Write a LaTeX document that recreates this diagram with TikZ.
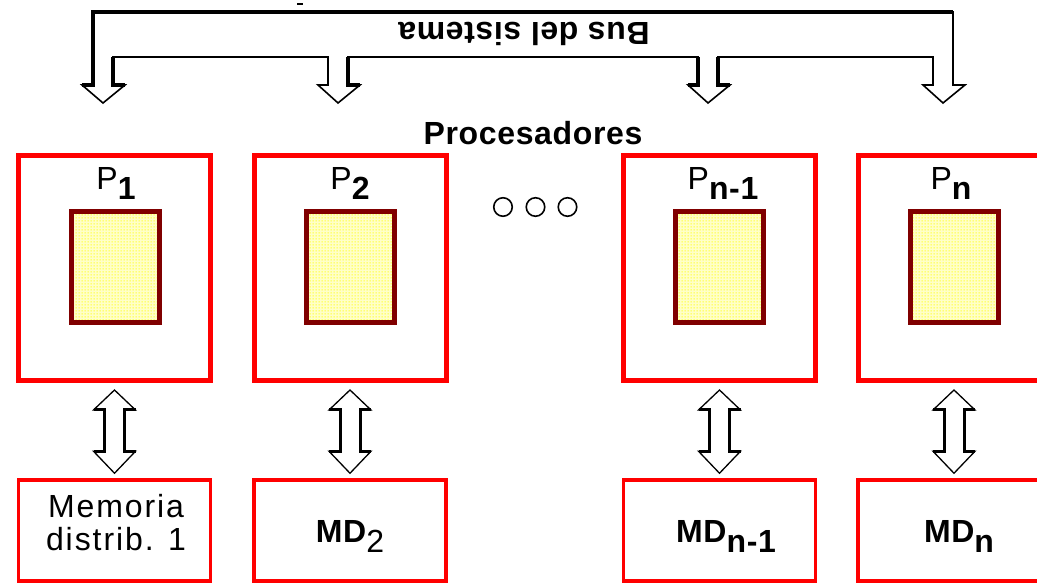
\documentclass[tikz,border=0pt]{standalone}
\usepackage{fontspec}
\setmainfont{Liberation Sans}[LetterSpace=6,BoldFeatures={LetterSpace=2}]
\usetikzlibrary{calc,patterns}
\definecolor{boxred}{RGB}{255,0,0}
\definecolor{cpuborder}{RGB}{128,0,0}
\definecolor{cpufill}{RGB}{255,255,200}
\pgfdeclarepatternformonly{ydots}{\pgfpointorigin}{\pgfqpoint{3pt}{3pt}}{\pgfqpoint{3pt}{3pt}}{%
  \pgfpathrectangle{\pgfqpoint{0.7pt}{0.7pt}}{\pgfqpoint{1.6pt}{1.6pt}}\pgfusepath{fill}}
\newcommand{\lowsub}[1]{\raisebox{-10pt}{#1}}
\tikzset{
  pbox/.style={draw=boxred, line width=5pt, minimum width=192pt, minimum height=225.5pt, inner sep=0pt},
  mdbox/.style={draw=boxred, line width=3.5pt, minimum width=192pt, minimum height=101pt, inner sep=0pt},
  cpu/.style={draw=cpuborder, line width=5pt, minimum width=88pt, minimum height=111pt, inner sep=0pt,
    preaction={fill=cpufill}, pattern=ydots, pattern color=yellow},
  lbl/.style={font=\fontsize{32}{33}\selectfont, inner sep=0pt, anchor=base},
  dotc/.style={circle, draw, line width=1.6pt, minimum size=18.5pt, inner sep=0pt},
  busthin/.style={draw=black, line width=1.6pt, line join=miter},
  busthick/.style={draw=black, line width=3.5pt, line join=miter},
  arrthin/.style={draw=black, line width=1.3pt, fill=white, line join=miter},
  arrthick/.style={draw=black, line width=3pt, line join=miter}
}
\newcommand{\biarrow}[2]{%
  \draw[arrthin] let \p1=($(#1.south)+(0,6.5)$), \p2=($(#2.north)+(0,-5)$) in
    (\x1,\y1) -- (\x1+21pt,\y1-20pt) -- (\x1+10pt,\y1-20pt) -- (\x1+10pt,\y2+22pt)
    -- (\x1+21pt,\y2+22pt) -- (\x1,\y2) -- (\x1-21pt,\y2+22pt) -- (\x1-10pt,\y2+22pt)
    -- (\x1-10pt,\y1-20pt) -- (\x1-21pt,\y1-20pt) -- cycle;
  \draw[arrthick] let \p1=($(#1.south)+(0,6.5)$), \p2=($(#2.north)+(0,-5)$) in
    (\x1+21pt,\y1-20pt) -- (\x1+10pt,\y1-20pt) -- (\x1+10pt,\y2+22pt) -- (\x1+21pt,\y2+22pt)
    (\x1-21pt,\y1-20pt) -- (\x1-10pt,\y1-20pt) -- (\x1-10pt,\y2+22pt) -- (\x1-21pt,\y2+22pt);
}
\begin{document}
\begin{tikzpicture}[x=1pt,y=-1pt]
\useasboundingbox (0,0) rectangle (1037,585);

% system bus
\draw[busthin] (93,12) -- (953,12) -- (953,85) -- (965,85) -- (943,103) -- (923,85) -- (933,85)
  -- (933,57) -- (718,57) -- (718,85) -- (730,85) -- (708,103) -- (688,85) -- (698,85)
  -- (698,57) -- (348,57) -- (348,85) -- (360,85) -- (338,103) -- (318,85) -- (328,85)
  -- (328,57) -- (113,57) -- (113,85) -- (125,85) -- (103,103) -- (82,85) -- (93,85) -- cycle;
\draw[busthick] (82,85) -- (93,85) -- (93,12) -- (953,12);
\draw[busthin] (953,12) -- (953,85) -- (965,85);
\draw[busthick] (125,85) -- (113,85) -- (113,57);
\draw[busthick] (360,85) -- (348,85) -- (348,57);
\draw[busthick] (688,85) -- (698,85) -- (698,57);
\draw[busthick] (730,85) -- (718,85) -- (718,57);
\draw[line width=2.5pt] (318,85) -- (328,85) -- (328,57);
\draw[line width=2.5pt] (923,85) -- (933,85) -- (933,57);
\fill (297,3) rectangle (303,5.5);
\node[font=\bfseries\fontsize{32}{33}\selectfont, inner sep=0pt, rotate=180] (bus) at (524,33.5) {Bus del sistema};

% title
\node[lbl, font=\bfseries\fontsize{32}{33}\selectfont] (proc) at (533,145) {Procesadores};

% processors
\node[pbox] (p1) at (114.5,268.25) {};
\node[pbox] (p2) at (350,268.25) {};
\node[pbox] (pn1) at (719.5,268.25) {};
\node[pbox] (pn) at (954,268.25) {};

\node[cpu] (c1) at (115.5,267) {};
\node[cpu] (c2) at (350,267) {};
\node[cpu] (cn1) at (719.5,267) {};
\node[cpu] (cn) at (954,267) {};

\node[lbl] (lp1) at (116,190) {P\lowsub{\bfseries 1}};
\node[lbl] (lp2) at (350,190) {P\lowsub{\bfseries 2}};
\node[lbl] (lpn1) at (723,190) {P\lowsub{\bfseries n-1}};
\node[lbl] (lpn) at (951,190) {P\lowsub{\bfseries n}};

\node[dotc] (d1) at (503,207) {};
\node[dotc] (d2) at (535.5,207) {};
\node[dotc] (d3) at (567.5,207) {};

% distributed memories
\node[mdbox] (md1) at (114.5,530.5) {};
\node[mdbox] (md2) at (350,530.5) {};
\node[mdbox] (mdn1) at (719.5,530.5) {};
\node[mdbox] (mdn) at (954,530.5) {};

\node[font=\fontsize{32}{33}\selectfont, align=center, inner sep=0pt] (lmd1) at (116,523) {Memoria\\distrib. 1};
\node[lbl] (lmd2) at (350,542) {\bfseries MD\lowsub{\mdseries 2}};
\node[lbl] (lmdn1) at (726,542) {\bfseries MD\lowsub{n-1}};
\node[lbl] (lmdn) at (959,542) {\bfseries MD\lowsub{n}};

% processor <-> memory links
\biarrow{p1}{md1}
\biarrow{p2}{md2}
\biarrow{pn1}{mdn1}
\biarrow{pn}{mdn}
\end{tikzpicture}
\end{document}
